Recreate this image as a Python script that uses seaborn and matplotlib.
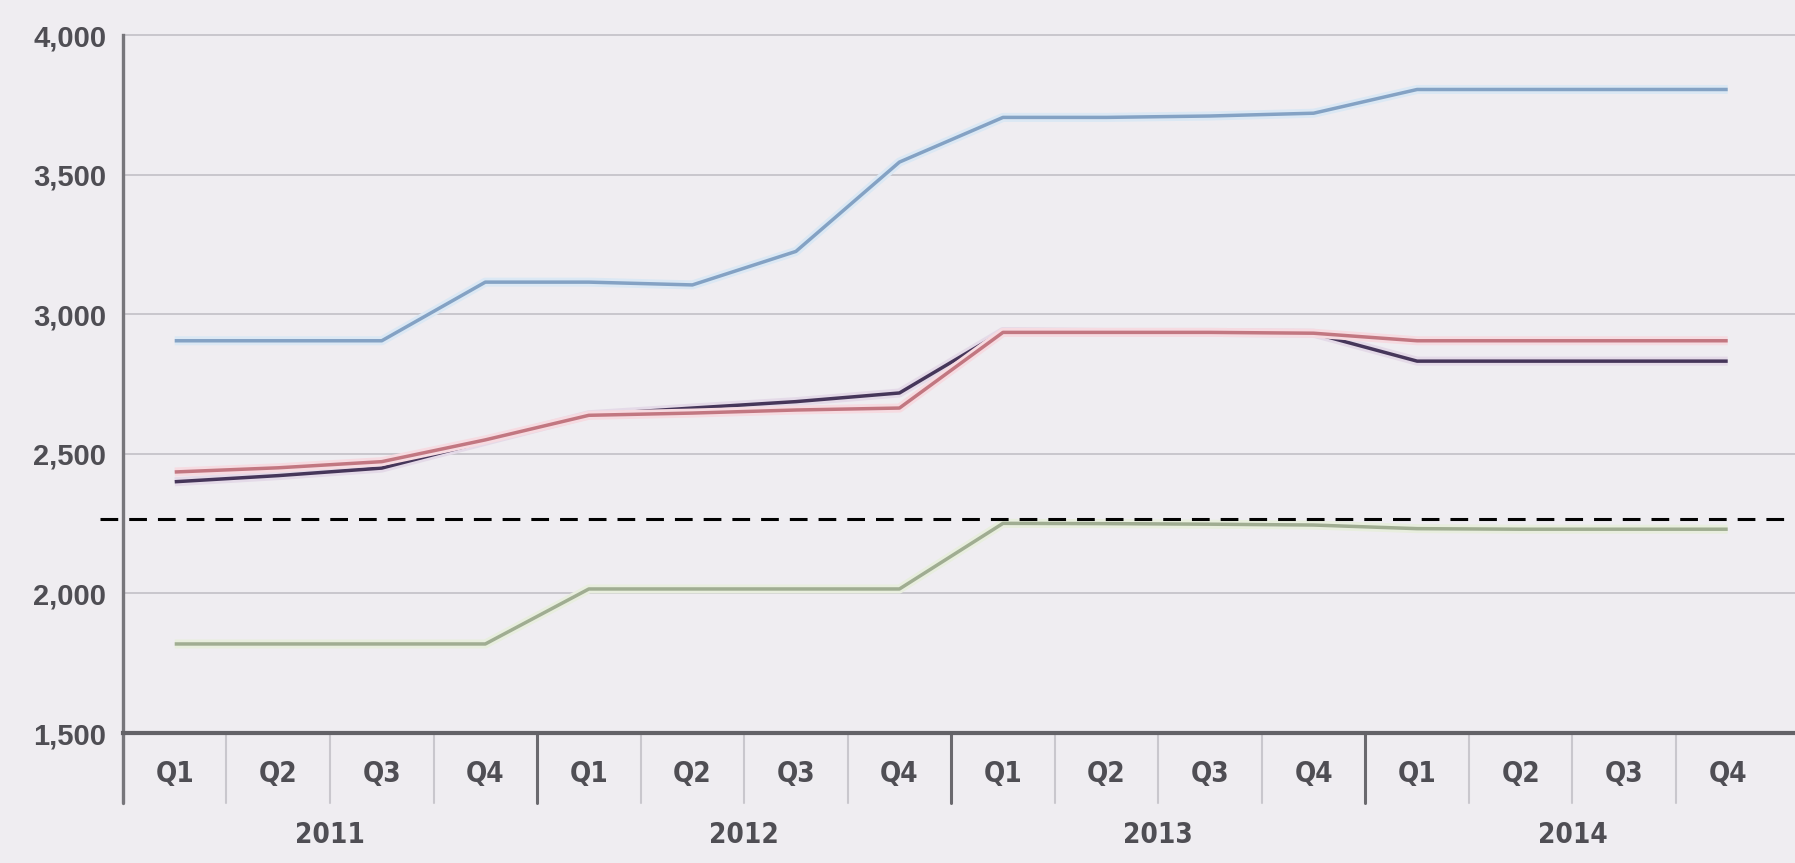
import matplotlib
matplotlib.use("Agg")
import matplotlib.pyplot as plt
import matplotlib.transforms as mtrans
import matplotlib.patheffects as pe
from matplotlib.lines import Line2D
import seaborn as sns
import pandas as pd

# ---------------- data ----------------
quarters = ["Q1", "Q2", "Q3", "Q4"] * 4
years = ["2011", "2012", "2013", "2014"]

blue = [2905, 2905, 2905, 3115, 3115, 3105, 3225, 3545,
        3705, 3705, 3710, 3720, 3805, 3805, 3805, 3805]
navy = [2400, 2422, 2449, 2545, 2640, 2664, 2687, 2718,
        2938, 2935, 2935, 2932, 2832, 2832, 2832, 2832]
red = [2435, 2450, 2472, 2550, 2638, 2646, 2657, 2664,
       2935, 2935, 2935, 2932, 2905, 2905, 2905, 2905]
green = [1819, 1819, 1819, 1819, 2016, 2016, 2016, 2016,
         2251, 2250, 2248, 2245, 2232, 2230, 2230, 2230]
threshold = 2265

yticks = [1500, 2000, 2500, 3000, 3500, 4000]
ytick_labels = ["1,500", "2,000", "2,500", "3,000", "3,500", "4,000"]

# ---------------- style ----------------
bg = "#efedf1"
grid_c = "#c8c6cc"
text_c = "#4f4e54"
palette = {"green": "#a0ad92", "blue": "#84a2c4", "navy": "#46365a", "red": "#c27781"}
halo = {"green": "#e8eede", "blue": "#dbe8f4", "navy": "#e4dae8", "red": "#f6dbe1"}

sns.set_theme(style="white")
plt.rcParams['font.family'] = ['Liberation Sans', 'DejaVu Sans']

fig = plt.figure(figsize=(17.95, 8.63), dpi=100, facecolor=bg)
ax = fig.add_axes([0.0685, 0.1506, 0.9315, 0.8088])
ax.set_facecolor(bg)

idx = list(range(len(quarters)))
df = pd.DataFrame({"idx": idx, "green": green, "blue": blue, "navy": navy, "red": red})
long = df.melt(id_vars="idx", var_name="series", value_name="value")

sns.lineplot(data=long, x="idx", y="value", hue="series", palette=palette,
             hue_order=["green", "blue", "navy", "red"],
             linewidth=2.5, legend=False, ax=ax, sort=False)

for line, name in zip(ax.get_lines(), ["green", "blue", "navy", "red"]):
    line.set_path_effects([pe.Stroke(linewidth=6.5, foreground=halo[name]), pe.Normal()])
    line.set_solid_capstyle("butt")
    line.set_zorder(3)

ax.set_xlim(-0.5, 15.65)
ax.set_ylim(1500, 4000)

# gridlines
for y in yticks[1:]:
    ax.axhline(y, color=grid_c, lw=1.4, zorder=1, clip_on=False)

# dashed threshold line (extends slightly left of the spine)
trans_xa = mtrans.blended_transform_factory(ax.transAxes, ax.transData)
ax.plot([-0.014, 1.0], [threshold, threshold], transform=trans_xa, color="black",
        lw=2.2, dashes=(5.8, 3.6), clip_on=False, zorder=4)

# spines
for s in ["top", "right"]:
    ax.spines[s].set_visible(False)
ax.spines["left"].set_color("#77767b")
ax.spines["left"].set_linewidth(2.4)
ax.spines["bottom"].set_color("#636267")
ax.spines["bottom"].set_linewidth(3.0)

# y ticks
ax.set_yticks(yticks)
ax.set_yticklabels(ytick_labels, fontsize=21, fontweight="bold", color=text_c,
                   fontstretch="condensed")
ax.tick_params(axis="y", length=0, pad=12)
ax.set_xticks([])
ax.set_xlabel("")
ax.set_ylabel("")

# category axis below
trans_dx = mtrans.blended_transform_factory(ax.transData, ax.transAxes)
for i, q in enumerate(quarters):
    ax.text(i, -0.059, q, transform=trans_dx, ha="center", va="center",
            fontsize=20, fontweight="bold", color=text_c, fontstretch="condensed",
            family=["DejaVu Sans"])
for k, yr in enumerate(years):
    ax.text(4 * k + 1.5, -0.146, yr, transform=trans_dx, ha="center", va="center",
            fontsize=20, fontweight="bold", color=text_c, fontstretch="condensed",
            family=["DejaVu Sans"])

for i in range(15):
    xs = i + 0.5
    if (i + 1) % 4 == 0:
        ax.add_line(Line2D([xs, xs], [0, -0.1], transform=trans_dx, color="#6a696e",
                           lw=2.2, clip_on=False))
    else:
        ax.add_line(Line2D([xs, xs], [0, -0.1], transform=trans_dx, color="#c9c7cd",
                           lw=1.5, clip_on=False))
# left spine extension
ax.add_line(Line2D([-0.5, -0.5], [0, -0.1], transform=trans_dx, color="#77767b",
                   lw=2.4, clip_on=False))

fig.savefig("out.png", dpi=100, facecolor=bg)
